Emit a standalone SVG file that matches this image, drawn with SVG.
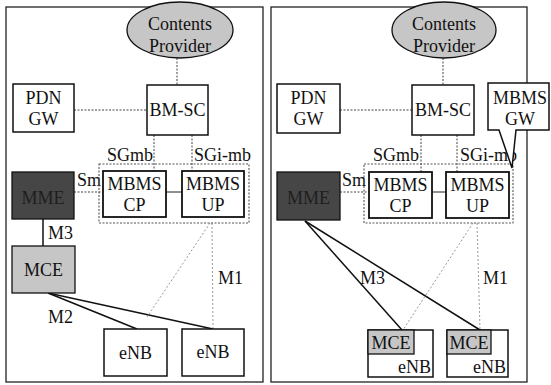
<svg xmlns="http://www.w3.org/2000/svg" width="551" height="385" viewBox="0 0 551 385">
<style>
text{font-family:"Liberation Serif","Times New Roman",serif;font-size:18px;fill:#111;text-anchor:middle}
.box{fill:#fff;stroke:#111;stroke-width:1.5}
.panel{fill:#fff;stroke:#222;stroke-width:1.3}
.light{fill:#c6c6c6;stroke:#111;stroke-width:1.3}
.dark{fill:#464646;stroke:#111;stroke-width:1.3}
.encl{fill:none;stroke:#555;stroke-width:1.1;stroke-dasharray:2 1.5}
.dot{fill:none;stroke:#444;stroke-width:1;stroke-dasharray:2 1.5}
.gdot{fill:none;stroke:#999;stroke-width:1;stroke-dasharray:2 2}
.solid{fill:none;stroke:#111;stroke-width:1.5}
.thin{fill:none;stroke:#222;stroke-width:1}
.lbl{text-anchor:start}
</style>
<rect width="551" height="385" fill="#fff"/>
<g id="panel-left"><rect class="panel" x="6" y="7" width="257" height="375"/></g>
<g id="panel-right"><rect class="panel" x="271" y="7" width="256" height="375"/></g>

<g id="connectors">
  <line class="dot" x1="177" y1="58" x2="177" y2="85"/>
  <line class="dot" x1="74" y1="110" x2="147" y2="110"/>
  <line class="dot" x1="154" y1="135" x2="154" y2="171"/>
  <line class="dot" x1="192" y1="135" x2="192" y2="171"/>
  <line class="dot" x1="74" y1="192" x2="103" y2="192"/>
  <line class="thin" x1="166" y1="192" x2="182" y2="192"/>
  <line class="solid" x1="43" y1="219" x2="43" y2="246"/>
  <line class="solid" x1="48" y1="293" x2="137" y2="329"/>
  <line class="solid" x1="48" y1="293" x2="213" y2="329"/>
  <line class="gdot" x1="210" y1="223" x2="147" y2="317"/>
  <line class="gdot" x1="212" y1="223" x2="213" y2="329"/>
  <line class="dot" x1="443" y1="58" x2="443" y2="85"/>
  <line class="dot" x1="340" y1="110" x2="412" y2="110"/>
  <line class="dot" x1="421" y1="135" x2="421" y2="172"/>
  <line class="dot" x1="457" y1="135" x2="457" y2="172"/>
  <line class="dot" x1="340" y1="192" x2="369" y2="192"/>
  <line class="thin" x1="432" y1="192" x2="446" y2="192"/>
  <line class="solid" x1="305" y1="221" x2="402" y2="330"/>
  <line class="solid" x1="305" y1="221" x2="480" y2="330"/>
  <line class="gdot" x1="473" y1="223" x2="403" y2="330"/>
  <line class="gdot" x1="477" y1="223" x2="480" y2="330"/>
  <text x="130" y="161">SGmb</text>
  <text class="lbl" x="194" y="161">SGi-mb</text>
  <text class="lbl" x="77" y="186">Sm</text>
  <text class="lbl" x="48" y="239">M3</text>
  <text class="lbl" x="48" y="323">M2</text>
  <text class="lbl" x="218" y="284">M1</text>
  <text x="396" y="161">SGmb</text>
  <text class="lbl" x="460" y="161">SGi-mb</text>
  <text class="lbl" x="342" y="186">Sm</text>
  <text class="lbl" x="360" y="284">M3</text>
  <text class="lbl" x="483" y="284">M1</text>
</g>

<g id="L-contents"><ellipse class="light" cx="180" cy="30" rx="53" ry="28"/><text x="180" y="30">Contents</text><text x="180" y="52">Provider</text></g>
<g id="L-pdngw"><rect class="box" x="13" y="84" width="61" height="48"/><text x="43.5" y="104">PDN</text><text x="43.5" y="125">GW</text></g>
<g id="L-bmsc"><rect class="box" x="147" y="85" width="61" height="50"/><text x="177.5" y="116">BM-SC</text></g>
<g id="L-enclosure"><rect class="encl" x="99" y="164" width="150" height="59"/></g>
<g id="L-mbmscp"><rect class="box" x="103" y="171" width="63" height="46" style="stroke-width:1.8"/><text x="134.5" y="190">MBMS</text><text x="134.5" y="211">CP</text></g>
<g id="L-mbmsup"><rect class="box" x="182" y="171" width="62" height="46" style="stroke-width:1.8"/><text x="213" y="190">MBMS</text><text x="213" y="211">UP</text></g>
<g id="L-mme"><rect class="dark" x="12" y="172" width="62" height="47"/><text x="43" y="204" style="fill:#1e1e1e">MME</text></g>
<g id="L-mce"><rect class="light" x="12" y="246" width="63" height="47"/><text x="43.5" y="276">MCE</text></g>
<g id="L-enb1"><rect class="box" x="104" y="329" width="63" height="47"/><text x="135.5" y="359">eNB</text></g>
<g id="L-enb2"><rect class="box" x="182" y="329" width="62" height="47"/><text x="213" y="358">eNB</text></g>

<g id="R-contents"><ellipse class="light" cx="444" cy="30" rx="52" ry="28"/><text x="444" y="30">Contents</text><text x="444" y="52">Provider</text></g>
<g id="R-pdngw"><rect class="box" x="277" y="84" width="63" height="49"/><text x="308.5" y="104">PDN</text><text x="308.5" y="125">GW</text></g>
<g id="R-bmsc"><rect class="box" x="412" y="85" width="62" height="50"/><text x="443" y="116">BM-SC</text></g>
<g id="R-enclosure"><rect class="encl" x="364" y="164" width="149" height="59"/></g>
<g id="R-mbmscp"><rect class="box" x="369" y="172" width="63" height="46" style="stroke-width:1.8"/><text x="400.5" y="191">MBMS</text><text x="400.5" y="212">CP</text></g>
<g id="R-mbmsup"><rect class="box" x="446" y="172" width="63" height="46" style="stroke-width:1.8"/><text x="477.5" y="191">MBMS</text><text x="477.5" y="212">UP</text></g>
<g id="R-mme"><rect class="dark" x="277" y="172" width="63" height="48"/><text x="308.5" y="204" style="fill:#1e1e1e">MME</text></g>
<g id="R-mbmsgw"><path class="box" d="M488,83 H549 V130 H516 L512,168 L499,130 H488 Z"/><text x="520" y="104">MBMS</text><text x="520" y="125">GW</text></g>
<g id="R-mce-enb1"><rect class="box" x="368" y="330" width="65" height="47"/><rect class="light" x="368" y="330" width="46" height="24"/><text x="391" y="349">MCE</text><text x="431" y="373" style="text-anchor:end">eNB</text></g>
<g id="R-mce-enb2"><rect class="box" x="447" y="330" width="61" height="47"/><rect class="light" x="447" y="330" width="44" height="24"/><text x="469" y="349">MCE</text><text x="506" y="373" style="text-anchor:end">eNB</text></g>
</svg>
